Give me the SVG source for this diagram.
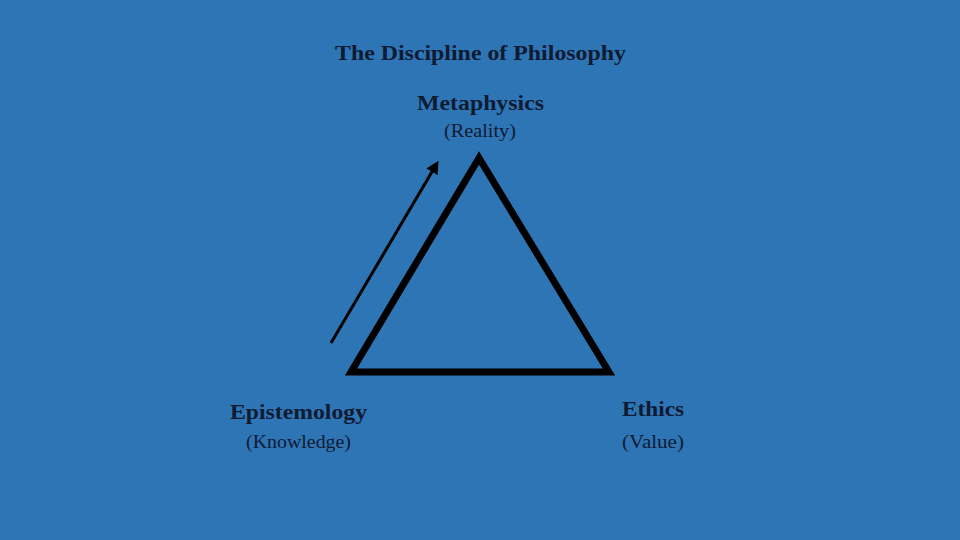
<svg xmlns="http://www.w3.org/2000/svg" width="960" height="540" viewBox="0 0 960 540">
<defs>
<style>
.t{font-family:"Liberation Serif","Times New Roman",serif;fill:#0f1a33;}
.b{font-weight:bold;font-size:22px;}
.r{font-size:18px;}
</style>
<marker id="ah" markerWidth="13" markerHeight="13" refX="8" refY="6.5" orient="auto" markerUnits="userSpaceOnUse">
<path d="M0,0 L13,6.5 L0,13 Z" fill="#000"/>
</marker>
</defs>
<rect width="960" height="540" fill="#2e75b5"/>
<text class="t b" x="335" y="60" textLength="291" lengthAdjust="spacingAndGlyphs">The Discipline of Philosophy</text>
<g id="metaphysics">
<text class="t b" x="417" y="110" textLength="127" lengthAdjust="spacingAndGlyphs">Metaphysics</text>
<text class="t r" x="444" y="137" textLength="72" lengthAdjust="spacingAndGlyphs">(Reality)</text>
</g>
<g id="epistemology">
<text class="t b" x="230" y="419" textLength="137" lengthAdjust="spacingAndGlyphs">Epistemology</text>
<text class="t r" x="246" y="448" textLength="105" lengthAdjust="spacingAndGlyphs">(Knowledge)</text>
</g>
<g id="ethics">
<text class="t b" x="622" y="416" textLength="62" lengthAdjust="spacingAndGlyphs">Ethics</text>
<text class="t r" x="622" y="448" textLength="62" lengthAdjust="spacingAndGlyphs">(Value)</text>
</g>
<g id="triangle">
<polygon points="479,158 351,372 609,372" fill="none" stroke="#000" stroke-width="7" stroke-linejoin="miter"/>
</g>
<g id="connectors">
<line x1="331" y1="343" x2="436" y2="165" stroke="#000" stroke-width="3" marker-end="url(#ah)"/>
</g>
</svg>
